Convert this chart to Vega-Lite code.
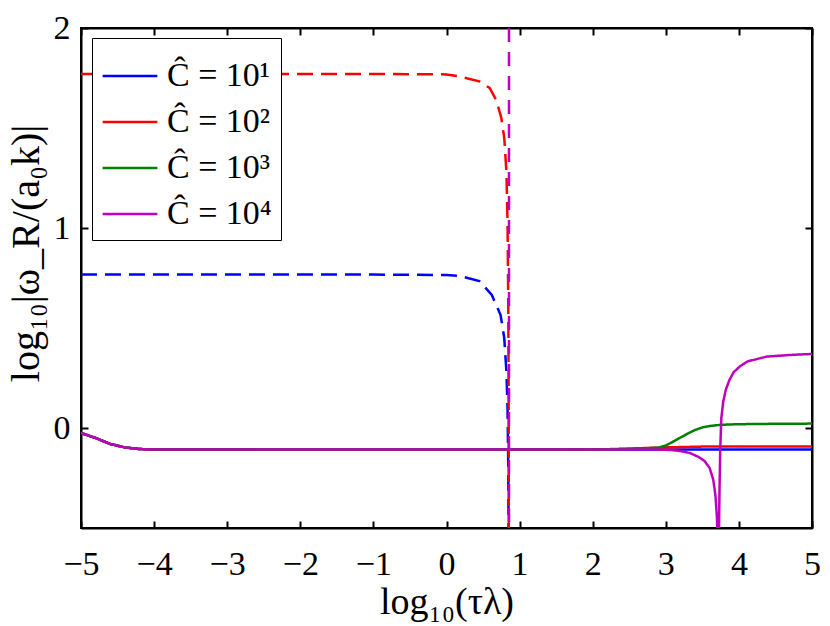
{
  "$schema": "https://vega.github.io/schema/vega-lite/v6.json",
  "width": 731,
  "height": 500,
  "autosize": "none",
  "padding": {"left": 81, "top": 28, "right": 18, "bottom": 98},
  "background": "white",
  "config": {
    "view": {"stroke": "black", "strokeWidth": 2},
    "axis": {
      "grid": false,
      "domainColor": "black",
      "domainWidth": 2,
      "tickColor": "black",
      "tickWidth": 2,
      "labelFont": "Liberation Serif",
      "labelColor": "black",
      "titleFont": "Liberation Serif",
      "titleColor": "black",
      "titleFontWeight": "normal",
      "labelFontSize": 34,
      "titleFontSize": 38
    },
    "legend": {"labelFont": "Liberation Serif"}
  },
  "datasets": {
    "asymptote": [{"s": "Ĉ = 10⁴", "x": 0.855}],
    "curves": [
      {"s": "Ĉ = 10¹", "p": "solid", "i": 1, "x": -5, "y": -0.025},
      {"s": "Ĉ = 10¹", "p": "solid", "i": 2, "x": -4.8, "y": -0.05},
      {"s": "Ĉ = 10¹", "p": "solid", "i": 3, "x": -4.6, "y": -0.08},
      {"s": "Ĉ = 10¹", "p": "solid", "i": 4, "x": -4.4, "y": -0.097},
      {"s": "Ĉ = 10¹", "p": "solid", "i": 5, "x": -4.2, "y": -0.105},
      {"s": "Ĉ = 10¹", "p": "solid", "i": 6, "x": -4, "y": -0.108},
      {"s": "Ĉ = 10¹", "p": "solid", "i": 7, "x": 0, "y": -0.108},
      {"s": "Ĉ = 10¹", "p": "solid", "i": 8, "x": 3, "y": -0.108},
      {"s": "Ĉ = 10¹", "p": "solid", "i": 9, "x": 5, "y": -0.108},

      {"s": "Ĉ = 10²", "p": "solid", "i": 1, "x": -5, "y": -0.025},
      {"s": "Ĉ = 10²", "p": "solid", "i": 2, "x": -4.8, "y": -0.05},
      {"s": "Ĉ = 10²", "p": "solid", "i": 3, "x": -4.6, "y": -0.08},
      {"s": "Ĉ = 10²", "p": "solid", "i": 4, "x": -4.4, "y": -0.097},
      {"s": "Ĉ = 10²", "p": "solid", "i": 5, "x": -4.2, "y": -0.105},
      {"s": "Ĉ = 10²", "p": "solid", "i": 6, "x": -4, "y": -0.108},
      {"s": "Ĉ = 10²", "p": "solid", "i": 7, "x": 2, "y": -0.108},
      {"s": "Ĉ = 10²", "p": "solid", "i": 8, "x": 2.4, "y": -0.104},
      {"s": "Ĉ = 10²", "p": "solid", "i": 9, "x": 3, "y": -0.097},
      {"s": "Ĉ = 10²", "p": "solid", "i": 10, "x": 3.5, "y": -0.093},
      {"s": "Ĉ = 10²", "p": "solid", "i": 11, "x": 4, "y": -0.092},
      {"s": "Ĉ = 10²", "p": "solid", "i": 12, "x": 5, "y": -0.092},

      {"s": "Ĉ = 10³", "p": "solid", "i": 1, "x": -5, "y": -0.025},
      {"s": "Ĉ = 10³", "p": "solid", "i": 2, "x": -4.8, "y": -0.05},
      {"s": "Ĉ = 10³", "p": "solid", "i": 3, "x": -4.6, "y": -0.08},
      {"s": "Ĉ = 10³", "p": "solid", "i": 4, "x": -4.4, "y": -0.097},
      {"s": "Ĉ = 10³", "p": "solid", "i": 5, "x": -4.2, "y": -0.105},
      {"s": "Ĉ = 10³", "p": "solid", "i": 6, "x": -4, "y": -0.108},
      {"s": "Ĉ = 10³", "p": "solid", "i": 7, "x": 2, "y": -0.108},
      {"s": "Ĉ = 10³", "p": "solid", "i": 8, "x": 2.6, "y": -0.104},
      {"s": "Ĉ = 10³", "p": "solid", "i": 9, "x": 2.9, "y": -0.098},
      {"s": "Ĉ = 10³", "p": "solid", "i": 10, "x": 3.0, "y": -0.088},
      {"s": "Ĉ = 10³", "p": "solid", "i": 11, "x": 3.1, "y": -0.068},
      {"s": "Ĉ = 10³", "p": "solid", "i": 12, "x": 3.2, "y": -0.048},
      {"s": "Ĉ = 10³", "p": "solid", "i": 13, "x": 3.3, "y": -0.028},
      {"s": "Ĉ = 10³", "p": "solid", "i": 14, "x": 3.4, "y": -0.01},
      {"s": "Ĉ = 10³", "p": "solid", "i": 15, "x": 3.5, "y": 0.003},
      {"s": "Ĉ = 10³", "p": "solid", "i": 16, "x": 3.6, "y": 0.01},
      {"s": "Ĉ = 10³", "p": "solid", "i": 17, "x": 3.75, "y": 0.016},
      {"s": "Ĉ = 10³", "p": "solid", "i": 18, "x": 4, "y": 0.019},
      {"s": "Ĉ = 10³", "p": "solid", "i": 19, "x": 4.5, "y": 0.021},
      {"s": "Ĉ = 10³", "p": "solid", "i": 20, "x": 5, "y": 0.022},

      {"s": "Ĉ = 10¹", "p": "dashed", "i": 1, "x": -5, "y": 0.767},
      {"s": "Ĉ = 10¹", "p": "dashed", "i": 2, "x": -1, "y": 0.767},
      {"s": "Ĉ = 10¹", "p": "dashed", "i": 3, "x": 0, "y": 0.765},
      {"s": "Ĉ = 10¹", "p": "dashed", "i": 4, "x": 0.18, "y": 0.76},
      {"s": "Ĉ = 10¹", "p": "dashed", "i": 5, "x": 0.45, "y": 0.735},
      {"s": "Ĉ = 10¹", "p": "dashed", "i": 6, "x": 0.62, "y": 0.665},
      {"s": "Ĉ = 10¹", "p": "dashed", "i": 7, "x": 0.74, "y": 0.565},
      {"s": "Ĉ = 10¹", "p": "dashed", "i": 8, "x": 0.79, "y": 0.45},
      {"s": "Ĉ = 10¹", "p": "dashed", "i": 9, "x": 0.82, "y": 0.28},
      {"s": "Ĉ = 10¹", "p": "dashed", "i": 10, "x": 0.835, "y": 0.1},
      {"s": "Ĉ = 10¹", "p": "dashed", "i": 11, "x": 0.845, "y": -0.2},
      {"s": "Ĉ = 10¹", "p": "dashed", "i": 12, "x": 0.85, "y": -0.6},

      {"s": "Ĉ = 10²", "p": "dashed", "i": 1, "x": -5, "y": 1.77},
      {"s": "Ĉ = 10²", "p": "dashed", "i": 2, "x": -1, "y": 1.77},
      {"s": "Ĉ = 10²", "p": "dashed", "i": 3, "x": 0, "y": 1.768},
      {"s": "Ĉ = 10²", "p": "dashed", "i": 4, "x": 0.18, "y": 1.758},
      {"s": "Ĉ = 10²", "p": "dashed", "i": 5, "x": 0.45, "y": 1.733},
      {"s": "Ĉ = 10²", "p": "dashed", "i": 6, "x": 0.59, "y": 1.70},
      {"s": "Ĉ = 10²", "p": "dashed", "i": 7, "x": 0.68, "y": 1.64},
      {"s": "Ĉ = 10²", "p": "dashed", "i": 8, "x": 0.75, "y": 1.55},
      {"s": "Ĉ = 10²", "p": "dashed", "i": 9, "x": 0.79, "y": 1.45},
      {"s": "Ĉ = 10²", "p": "dashed", "i": 10, "x": 0.82, "y": 1.28},
      {"s": "Ĉ = 10²", "p": "dashed", "i": 11, "x": 0.835, "y": 1.03},
      {"s": "Ĉ = 10²", "p": "dashed", "i": 12, "x": 0.845, "y": 0.62},
      {"s": "Ĉ = 10²", "p": "dashed", "i": 13, "x": 0.85, "y": 0.2},
      {"s": "Ĉ = 10²", "p": "dashed", "i": 14, "x": 0.853, "y": -0.6},

      {"s": "Ĉ = 10⁴", "p": "solid", "i": 1, "x": -5, "y": -0.025},
      {"s": "Ĉ = 10⁴", "p": "solid", "i": 2, "x": -4.8, "y": -0.05},
      {"s": "Ĉ = 10⁴", "p": "solid", "i": 3, "x": -4.6, "y": -0.08},
      {"s": "Ĉ = 10⁴", "p": "solid", "i": 4, "x": -4.4, "y": -0.097},
      {"s": "Ĉ = 10⁴", "p": "solid", "i": 5, "x": -4.2, "y": -0.105},
      {"s": "Ĉ = 10⁴", "p": "solid", "i": 6, "x": -4, "y": -0.108},
      {"s": "Ĉ = 10⁴", "p": "solid", "i": 7, "x": 2.9, "y": -0.108},
      {"s": "Ĉ = 10⁴", "p": "solid", "i": 8, "x": 3.06, "y": -0.11},
      {"s": "Ĉ = 10⁴", "p": "solid", "i": 9, "x": 3.2, "y": -0.115},
      {"s": "Ĉ = 10⁴", "p": "solid", "i": 10, "x": 3.33, "y": -0.125},
      {"s": "Ĉ = 10⁴", "p": "solid", "i": 11, "x": 3.45, "y": -0.145},
      {"s": "Ĉ = 10⁴", "p": "solid", "i": 12, "x": 3.53, "y": -0.165},
      {"s": "Ĉ = 10⁴", "p": "solid", "i": 13, "x": 3.6, "y": -0.2},
      {"s": "Ĉ = 10⁴", "p": "solid", "i": 14, "x": 3.65, "y": -0.26},
      {"s": "Ĉ = 10⁴", "p": "solid", "i": 15, "x": 3.68, "y": -0.34},
      {"s": "Ĉ = 10⁴", "p": "solid", "i": 16, "x": 3.70, "y": -0.45},
      {"s": "Ĉ = 10⁴", "p": "solid", "i": 17, "x": 3.71, "y": -0.6},
      {"s": "Ĉ = 10⁴", "p": "solid", "i": 18, "x": 3.725, "y": -0.6},
      {"s": "Ĉ = 10⁴", "p": "solid", "i": 19, "x": 3.735, "y": -0.3},
      {"s": "Ĉ = 10⁴", "p": "solid", "i": 20, "x": 3.745, "y": -0.1},
      {"s": "Ĉ = 10⁴", "p": "solid", "i": 21, "x": 3.76, "y": 0.05},
      {"s": "Ĉ = 10⁴", "p": "solid", "i": 22, "x": 3.785, "y": 0.13},
      {"s": "Ĉ = 10⁴", "p": "solid", "i": 23, "x": 3.82, "y": 0.19},
      {"s": "Ĉ = 10⁴", "p": "solid", "i": 24, "x": 3.87, "y": 0.24},
      {"s": "Ĉ = 10⁴", "p": "solid", "i": 25, "x": 3.93, "y": 0.28},
      {"s": "Ĉ = 10⁴", "p": "solid", "i": 26, "x": 4.02, "y": 0.31},
      {"s": "Ĉ = 10⁴", "p": "solid", "i": 27, "x": 4.12, "y": 0.333},
      {"s": "Ĉ = 10⁴", "p": "solid", "i": 28, "x": 4.38, "y": 0.357},
      {"s": "Ĉ = 10⁴", "p": "solid", "i": 29, "x": 4.74, "y": 0.366},
      {"s": "Ĉ = 10⁴", "p": "solid", "i": 30, "x": 5, "y": 0.37}
    ]
  },
  "layer": [
    {
      "data": {"name": "curves"},
      "mark": {"type": "line", "strokeWidth": 2.5, "clip": true},
      "encoding": {
        "x": {
          "field": "x", "type": "quantitative",
          "scale": {"domain": [-5, 5], "nice": false, "zero": false},
          "axis": {"values": [-5, -4, -3, -2, -1, 0, 1, 2, 3, 4, 5], "tickSize": -7, "labelPadding": 26, "title": "log₁₀(τλ)", "titlePadding": 2, "labelFlush": false}
        },
        "y": {
          "field": "y", "type": "quantitative",
          "scale": {"domain": [-0.5, 2], "nice": false, "zero": false},
          "axis": {"values": [0, 1, 2], "tickSize": -7, "labelPadding": 18, "title": "log₁₀|ω_R/(a₀k)|", "titleFontSize": 40, "titlePadding": 7, "titleY": 225, "labelFlush": false}
        },
        "color": {
          "field": "s", "type": "nominal",
          "scale": {"domain": ["Ĉ = 10¹", "Ĉ = 10²", "Ĉ = 10³", "Ĉ = 10⁴"], "range": ["#0000ff", "#ff0000", "#008000", "#bf00bf"]},
          "legend": {
            "title": null, "orient": "none", "legendX": 11, "legendY": 10,
            "fillColor": "white", "strokeColor": "black", "padding": 9,
            "symbolType": "stroke", "symbolSize": 3000, "symbolStrokeWidth": 2.5,
            "labelFontSize": 34, "labelColor": "black",
            "rowPadding": -8, "labelOffset": 8
          }
        },
        "strokeDash": {
          "field": "p", "type": "nominal",
          "scale": {"domain": ["solid", "dashed"], "range": [[1, 0], [16, 8]]},
          "legend": null
        },
        "order": {"field": "i", "type": "quantitative"}
      }
    },
    {
      "data": {"name": "asymptote"},
      "mark": {"type": "rule", "strokeWidth": 2.5, "strokeDash": [14, 10]},
      "encoding": {
        "x": {"field": "x", "type": "quantitative", "axis": null},
        "color": {"field": "s", "type": "nominal"}
      }
    },
    {
      "data": {"name": "curves"},
      "mark": {"type": "line", "opacity": 0},
      "encoding": {
        "x": {"field": "x", "type": "quantitative", "axis": {"orient": "top", "values": [-5, -4, -3, -2, -1, 0, 1, 2, 3, 4, 5], "tickSize": -7, "labels": false, "title": null}},
        "y": {"field": "y", "type": "quantitative", "axis": {"orient": "right", "values": [0, 1, 2], "tickSize": -7, "labels": false, "title": null}}
      }
    }
  ],
  "resolve": {"axis": {"x": "independent", "y": "independent"}}
}
